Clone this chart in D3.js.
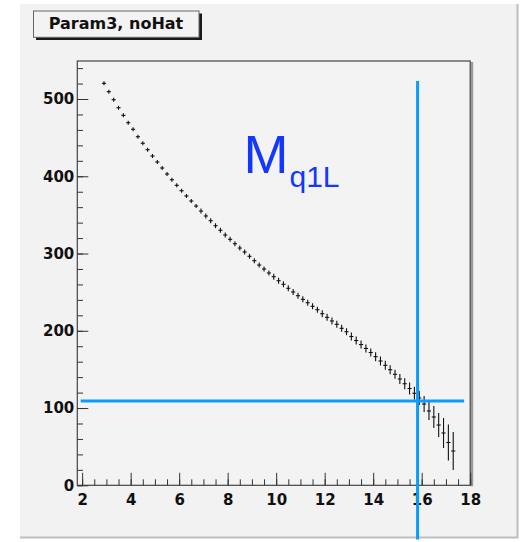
<!DOCTYPE html>
<html>
<head>
<meta charset="utf-8">
<script src="https://cdn.jsdelivr.net/npm/d3@7"></script>
<style>
  html, body { margin: 0; padding: 0; background: #fff; }
  svg { display: block; }
  .axis text { font-family: 'DejaVu Sans', sans-serif; font-weight: bold; font-size: 15px; fill: #111; }
  .axis line { stroke: #333; }
</style>
</head>
<body>
<svg id="chart" width="520" height="542"></svg>
<script>
// bin centres (x) and fitted values with their errors
const binCentres = [
  2.9, 3.1, 3.3, 3.5, 3.7, 3.9, 4.1, 4.3, 4.5, 4.7,
  4.9, 5.1, 5.3, 5.5, 5.7, 5.9, 6.1, 6.3, 6.5, 6.7,
  6.9, 7.1, 7.3, 7.5, 7.7, 7.9, 8.1, 8.3, 8.5, 8.7,
  8.9, 9.1, 9.3, 9.5, 9.7, 9.9, 10.1, 10.3, 10.5, 10.7,
  10.9, 11.1, 11.3, 11.5, 11.7, 11.9, 12.1, 12.3, 12.5, 12.7,
  12.9, 13.1, 13.3, 13.5, 13.7, 13.9, 14.1, 14.3, 14.5, 14.7,
  14.9, 15.1, 15.3, 15.5, 15.7, 15.9, 16.1, 16.3, 16.5, 16.7,
  16.9, 17.1, 17.3
];
const values = [
  520.3, 509.5, 499.1, 488.7, 478.9, 469.3, 460.8, 451.2, 442.7, 434.4,
  426.2, 418.5, 410.7, 402.9, 395.5, 388.3, 381.3, 374.5, 368.0, 361.5,
  355.0, 348.6, 342.5, 336.0, 330.1, 324.0, 318.4, 312.7, 307.1, 302.0,
  296.4, 290.7, 285.1, 280.0, 274.8, 270.0, 264.8, 260.2, 255.0, 250.2,
  245.4, 240.7, 236.3, 231.7, 227.3, 222.1, 217.4, 212.7, 208.4, 203.2,
  198.8, 192.6, 187.4, 182.2, 177.1, 171.9, 166.5, 160.9, 155.3, 149.6,
  143.7, 137.6, 131.5, 125.3, 119.1, 113.0, 105.2, 96.2, 88.4, 78.0,
  67.7, 55.4, 44.4
];
const errors = [
  2.6, 2.6, 2.6, 2.6, 2.6, 2.6, 2.6, 2.6, 2.6, 2.6,
  2.6, 2.6, 2.6, 2.6, 2.6, 2.6, 2.6, 2.6, 2.6, 2.6,
  3.2, 3.2, 3.2, 3.2, 3.2, 3.2, 3.2, 3.2, 3.2, 3.2,
  3.2, 3.2, 3.2, 3.2, 3.2, 3.9, 3.9, 3.9, 3.9, 3.9,
  3.9, 3.9, 3.9, 3.9, 3.9, 4.5, 4.5, 4.5, 4.5, 4.5,
  4.5, 5.2, 5.2, 5.2, 5.2, 5.2, 5.8, 5.8, 5.8, 5.8,
  5.8, 6.5, 7.1, 7.8, 8.4, 9.1, 10.4, 11.6, 14.2, 15.5,
  19.4, 23.3, 24.6
];
const binHalfWidth = 0.085;

const xDomain = [1.8, 18];
const yDomain = [0, 549.2];
const xMajorTicks = [2, 4, 6, 8, 10, 12, 14, 16, 18];
const xMinorTicks = d3.range(2, 18.01, 0.5);
const yMajorTicks = [0, 100, 200, 300, 400, 500];
const yMinorTicks = d3.range(0, 549, 20);

// cut lines drawn on top of the plot (data coordinates)
const cutVertical = { x: 15.83, y0: 523.3, y1: -70 };
const cutHorizontal = { y: 109.2, x0: 1.94, x1: 17.75 };

const titleText = 'Param3, noHat';
const labelMain = 'M';
const labelSub = 'q1L';

const svg = d3.select('#chart');

// canvas
svg.append('rect').attr('x', 20).attr('y', 4).attr('width', 497).attr('height', 533).attr('fill', '#f2f2f2');
svg.append('line').attr('x1', 517.5).attr('x2', 517.5).attr('y1', 4).attr('y2', 538).attr('stroke', '#bdbdbd').attr('stroke-width', 2);
svg.append('line').attr('x1', 20).attr('x2', 518).attr('y1', 537.5).attr('y2', 537.5).attr('stroke', '#bdbdbd').attr('stroke-width', 2);

const x = d3.scaleLinear().domain(xDomain).range([77.3, 470.2]);
const y = d3.scaleLinear().domain(yDomain).range([485.3, 61]);

// frame
const fx0 = x.range()[0], fx1 = x.range()[1], fy0 = y.range()[1], fy1 = y.range()[0];
svg.append('rect')
  .attr('x', fx1 + 0.5).attr('y', fy0 + 1).attr('width', 2.5).attr('height', fy1 - fy0)
  .attr('fill', '#9a9a9a');
svg.append('rect')
  .attr('x', fx0).attr('y', fy0).attr('width', fx1 - fx0).attr('height', fy1 - fy0)
  .attr('fill', '#f3f3f3').attr('stroke', '#444').attr('stroke-width', 1.2);

// axes, ROOT-style ticks pointing into the frame
svg.append('g').attr('class', 'axis')
  .attr('transform', `translate(0,${fy1})`)
  .call(d3.axisBottom(x).tickValues(xMinorTicks).tickSize(-6).tickFormat(''))
  .call((g) => g.select('.domain').remove());
svg.append('g').attr('class', 'axis')
  .attr('transform', `translate(0,${fy1})`)
  .call(d3.axisBottom(x).tickValues(xMajorTicks).tickSizeInner(-12.5).tickSizeOuter(0).tickPadding(9.2).tickFormat(d3.format('d')))
  .call((g) => g.select('.domain').remove());
svg.append('g').attr('class', 'axis')
  .attr('transform', `translate(${fx0},0)`)
  .call(d3.axisLeft(y).tickValues(yMinorTicks).tickSize(-5.7).tickFormat(''))
  .call((g) => g.select('.domain').remove());
svg.append('g').attr('class', 'axis')
  .attr('transform', `translate(${fx0},0)`)
  .call(d3.axisLeft(y).tickValues(yMajorTicks).tickSizeInner(-11).tickSizeOuter(0).tickPadding(3).tickFormat(d3.format('d')))
  .call((g) => g.select('.domain').remove());

// points with error bars
const points = binCentres.map((c, i) => ({ x: c, v: values[i], e: errors[i] }));
const marks = svg.append('g').attr('stroke', '#111').attr('stroke-width', 1.1);
marks.selectAll('line.h').data(points).join('line').attr('class', 'h')
  .attr('x1', (d) => x(d.x - binHalfWidth)).attr('x2', (d) => x(d.x + binHalfWidth))
  .attr('y1', (d) => y(d.v)).attr('y2', (d) => y(d.v));
marks.selectAll('line.v').data(points).join('line').attr('class', 'v')
  .attr('x1', (d) => x(d.x)).attr('x2', (d) => x(d.x))
  .attr('y1', (d) => y(d.v - d.e)).attr('y2', (d) => y(d.v + d.e));

// blue cut lines
svg.append('line')
  .attr('x1', x(cutVertical.x)).attr('x2', x(cutVertical.x))
  .attr('y1', y(cutVertical.y0)).attr('y2', y(cutVertical.y1))
  .attr('stroke', '#0a9bff').attr('stroke-width', 3);
svg.append('line')
  .attr('x1', x(cutHorizontal.x0)).attr('x2', x(cutHorizontal.x1))
  .attr('y1', y(cutHorizontal.y)).attr('y2', y(cutHorizontal.y))
  .attr('stroke', '#0a9bff').attr('stroke-width', 3);

// M_q1L label
const label = svg.append('text')
  .attr('x', 243.5).attr('y', 173.3)
  .attr('fill', '#1437ff')
  .attr('font-family', "'Liberation Sans', Arial, sans-serif");
label.append('tspan').attr('font-size', 54).text(labelMain);
label.append('tspan').attr('font-size', 30).attr('dx', 1).attr('dy', 14).text(labelSub);

// title box
svg.append('rect').attr('x', 36).attr('y', 13.5).attr('width', 166).attr('height', 26.5).attr('fill', '#1a1a1a');
svg.append('rect').attr('x', 33.5).attr('y', 11).attr('width', 165.5).attr('height', 26.3)
  .attr('fill', '#f3f3f3').attr('stroke', '#666').attr('stroke-width', 1);
svg.append('text')
  .attr('x', 116).attr('y', 29)
  .attr('text-anchor', 'middle')
  .attr('font-family', "'DejaVu Sans', sans-serif").attr('font-weight', 'bold').attr('font-size', 16)
  .attr('fill', '#111')
  .text(titleText);
</script>
</body>
</html>
